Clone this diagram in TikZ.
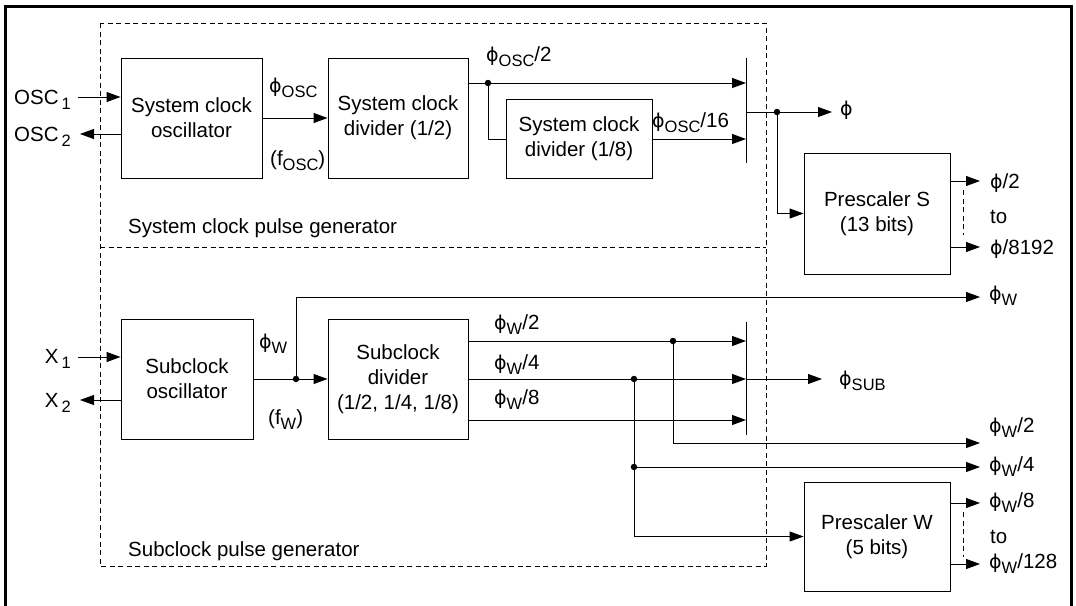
\documentclass[tikz,border=0pt]{standalone}
\usepackage{fontspec}
\setmainfont{Liberation Sans}
\newfontfamily\phifont{DejaVu Sans}
\usetikzlibrary{arrows.meta}
\newcommand\lo[1]{\raisebox{-5pt}{\fontsize{16.5}{17}\selectfont #1}}
\newcommand\ph{{\phifont\fontsize{19}{20}\selectfont ϕ}}
\begin{document}
\begin{tikzpicture}[x=1pt,y=-1pt,
  every node/.style={font=\fontsize{20.5}{25}\selectfont, inner sep=0pt},
  blk/.style={draw, line width=0.9pt, align=center},
  arr/.style={line width=0.9pt, -{Triangle[length=14pt,width=10pt]}},
  ln/.style={line width=0.9pt},
  dot/.style={circle, fill, minimum size=6.5pt, inner sep=0pt},
  grp/.style={line width=0.8pt, dash pattern=on 5pt off 3.5pt},
  frame/.style={line width=3pt}
]
\useasboundingbox (0,0) rectangle (1076,605);
% outer frame
\draw[frame] (5,606) -- (5,6.5) -- (1071.5,6.5) -- (1071.5,606);
% dashed groups
\draw[grp] (100,23) rectangle (766,566);
\draw[grp] (100,247) -- (766,247);
\node[anchor=base west] (lsys) at (128,233) {System clock pulse generator};
\node[anchor=base west] (lsub) at (128,556) {Subclock pulse generator};

% blocks
\node[blk, minimum width=141pt, minimum height=120pt] (osc) at (191.5,118) {System clock\\oscillator};
\node[blk, minimum width=140pt, minimum height=120pt] (div2) at (398,118) {System clock\\divider (1/2)};
\node[blk, minimum width=146pt, minimum height=79pt] (div8) at (579,139) {System clock\\divider (1/8)};
\node[blk, minimum width=146pt, minimum height=121pt] (presS) at (877,213.5) {Prescaler S\\(13 bits)};
\node[blk, minimum width=132pt, minimum height=120pt] (subosc) at (187,379) {Subclock\\oscillator};
\node[blk, minimum width=140pt, minimum height=120pt] (subdiv) at (398,379) {Subclock\\divider\\(1/2, 1/4, 1/8)};
\node[blk, minimum width=146pt, minimum height=109pt] (presW) at (877,536.5) {Prescaler W\\(5 bits)};

% ---------- system clock part ----------
\node[anchor=base east] (losc1) at (71,104) {OSC\hspace{3pt}\lo{1}};
\node[anchor=base east] (losc2) at (71,141) {OSC\hspace{3pt}\lo{2}};
\coordinate (o1) at (78,97);
\coordinate (o2) at (80,134);
\draw[arr] (o1) -- (o1 -| osc.west);
\draw[arr] (o2 -| osc.west) -- (o2);

\draw[arr] (osc.east) -- (div2.west);
\node[anchor=base west] (lposc) at (269,92) {\ph\lo{OSC}};
\node[anchor=base west] (lfosc) at (270,165) {(f\lo{OSC})};

\coordinate (m1t) at (746,58);
\coordinate (m1b) at (746,163);
\draw[ln] (m1t) -- (m1b);
\node[dot] (d1) at (488,83) {};
\draw[ln] (div2.east |- d1) -- (d1);
\draw[arr] (d1) -- (d1 -| m1t);
\draw[ln] (d1) |- (div8.west);
\draw[arr] (div8.east) -- (div8.east -| m1t);
\node[anchor=base west] (lp2) at (486,61) {\ph\lo{OSC}/2};
\node[anchor=base west] (lp16) at (652,127) {\ph\lo{OSC}/16};

\node[dot] (d2) at (777,112) {};
\draw[ln] (d2 -| m1t) -- (d2);
\coordinate (phiout) at (832,112);
\draw[arr] (d2) -- (phiout);
\node[anchor=base west] (lphi) at (840,115) {\ph};
\draw[arr] (d2) |- (presS.west);

\coordinate (s2) at (980,181);
\coordinate (s8192) at (980,247);
\draw[arr] (s2 -| presS.east) -- (s2);
\draw[arr] (s8192 -| presS.east) -- (s8192);
\draw[grp] (963,190) -- (963,235);
\node[anchor=base west] (ls2) at (990,188) {\ph/2};
\node[anchor=west] (lsto) at (990,217) {to};
\node[anchor=base west] (ls8192) at (990,254) {\ph/8192};

% ---------- subclock part ----------
\node[anchor=base east] (lx1) at (71,363) {X\hspace{3pt}\lo{1}};
\node[anchor=base east] (lx2) at (71,407) {X\hspace{3pt}\lo{2}};
\coordinate (x1) at (78,357);
\coordinate (x2) at (80,400);
\draw[arr] (x1) -- (x1 -| subosc.west);
\draw[arr] (x2 -| subosc.west) -- (x2);

\node[dot] (d3) at (296,379) {};
\draw[ln] (subosc.east) -- (d3);
\draw[arr] (d3) -- (subdiv.west);
\coordinate (phiW) at (980,297);
\draw[arr] (d3) |- (phiW);
\node[anchor=base west] (lpw) at (259,348) {\ph\lo{W}};
\node[anchor=base west] (lfw) at (268,424) {(f\lo{W})};
\node[anchor=base west] (lphiW) at (989,300) {\ph\lo{W}};

\coordinate (m2t) at (746,322);
\coordinate (m2b) at (746,435);
\draw[ln] (m2t) -- (m2b);
\node[dot] (d4) at (673,341) {};
\node[dot] (d5) at (634,379) {};
\coordinate (w8a) at (468,420);
\draw[ln] (subdiv.east |- d4) -- (d4);
\draw[arr] (d4) -- (d4 -| m2t);
\draw[ln] (subdiv.east) -- (d5);
\draw[arr] (d5) -- (d5 -| m2t);
\draw[arr] (w8a) -- (w8a -| m2t);
\node[anchor=base west] (lw2) at (494,329) {\ph\lo{W}/2};
\node[anchor=base west] (lw4) at (494,369) {\ph\lo{W}/4};
\node[anchor=base west] (lw8) at (494,404) {\ph\lo{W}/8};

\coordinate (sub) at (822,379);
\draw[arr] (m2t |- sub) -- (sub);
\node[anchor=base west] (lsub2) at (839,385) {\ph\lo{SUB}};

\coordinate (w2) at (980,443);
\draw[arr] (d4) |- (w2);
\node[anchor=base west] (lw2r) at (989,432) {\ph\lo{W}/2};

\node[dot] (d6) at (634,467) {};
\coordinate (w4) at (980,467);
\draw[ln] (d5) -- (d6);
\draw[arr] (d6) -- (w4);
\node[anchor=base west] (lw4r) at (989,471) {\ph\lo{W}/4};
\draw[arr] (d6) |- (presW.west);

\coordinate (w8) at (980,503);
\coordinate (w128) at (980,564);
\draw[arr] (w8 -| presW.east) -- (w8);
\draw[arr] (w128 -| presW.east) -- (w128);
\draw[grp] (963,512) -- (963,557);
\node[anchor=base west] (lw8r) at (989,507) {\ph\lo{W}/8};
\node[anchor=west] (lwto) at (990,537) {to};
\node[anchor=base west] (lw128) at (989,568) {\ph\lo{W}/128};
\end{tikzpicture}
\end{document}
